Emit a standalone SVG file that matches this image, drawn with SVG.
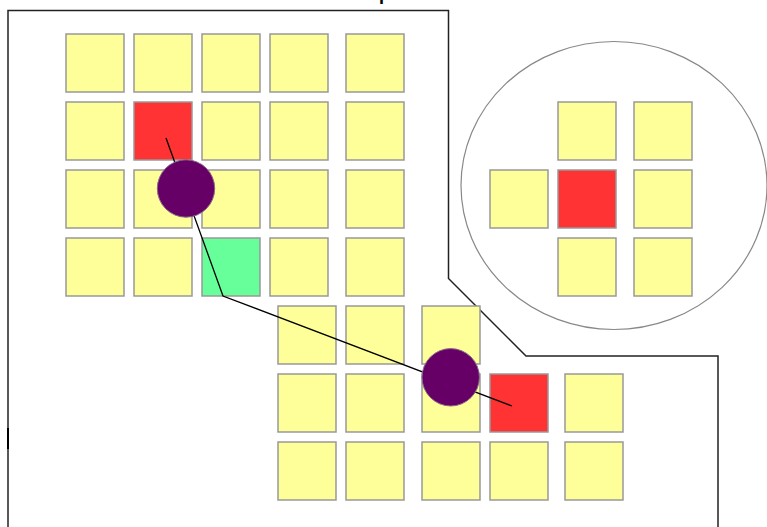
<svg xmlns="http://www.w3.org/2000/svg" width="767" height="527" viewBox="0 0 767 527">
<style>
.sq{fill:#ffff99;stroke:#999999;stroke-width:1.5}
.red{fill:#ff3333}
.green{fill:#66ff99}
.hub{fill:#660066;stroke:#8a6a8a;stroke-width:1}
.outline{fill:none;stroke:#222222;stroke-width:1.5}
.conn{fill:none;stroke:#000000;stroke-width:1.3}
</style>
<rect width="767" height="527" fill="#ffffff"/>
<text x="379" y="0" font-family="Liberation Sans, Arial, sans-serif" font-weight="bold" font-size="18" fill="#000">p</text>
<g id="region">
<path class="outline" d="M8,530 L8,10.5 L448.5,10.5 L448.5,278.5 L526,356 L718,356 L718,530"/>
<line x1="8" y1="428" x2="8" y2="449" stroke="#000" stroke-width="2"/>
</g>
<g id="top-grid">
<rect class="sq" x="66" y="34" width="58" height="58"/>
<rect class="sq" x="134" y="34" width="58" height="58"/>
<rect class="sq" x="202" y="34" width="58" height="58"/>
<rect class="sq" x="270" y="34" width="58" height="58"/>
<rect class="sq" x="346" y="34" width="58" height="58"/>
<rect class="sq" x="66" y="102" width="58" height="58"/>
<rect class="sq red" x="134" y="102" width="58" height="58"/>
<rect class="sq" x="202" y="102" width="58" height="58"/>
<rect class="sq" x="270" y="102" width="58" height="58"/>
<rect class="sq" x="346" y="102" width="58" height="58"/>
<rect class="sq" x="66" y="170" width="58" height="58"/>
<rect class="sq" x="134" y="170" width="58" height="58"/>
<rect class="sq" x="202" y="170" width="58" height="58"/>
<rect class="sq" x="270" y="170" width="58" height="58"/>
<rect class="sq" x="346" y="170" width="58" height="58"/>
<rect class="sq" x="66" y="238" width="58" height="58"/>
<rect class="sq" x="134" y="238" width="58" height="58"/>
<rect class="sq green" x="202" y="238" width="58" height="58"/>
<rect class="sq" x="270" y="238" width="58" height="58"/>
<rect class="sq" x="346" y="238" width="58" height="58"/>
</g>
<g id="bottom-grid">
<rect class="sq" x="278" y="306" width="58" height="58"/>
<rect class="sq" x="346" y="306" width="58" height="58"/>
<rect class="sq" x="422" y="306" width="58" height="58"/>
<rect class="sq" x="278" y="374" width="58" height="58"/>
<rect class="sq" x="346" y="374" width="58" height="58"/>
<rect class="sq" x="422" y="374" width="58" height="58"/>
<rect class="sq red" x="490" y="374" width="58" height="58"/>
<rect class="sq" x="565" y="374" width="58" height="58"/>
<rect class="sq" x="278" y="442" width="58" height="58"/>
<rect class="sq" x="346" y="442" width="58" height="58"/>
<rect class="sq" x="422" y="442" width="58" height="58"/>
<rect class="sq" x="490" y="442" width="58" height="58"/>
<rect class="sq" x="565" y="442" width="58" height="58"/>
</g>
<g id="neighbourhood">
<ellipse cx="614" cy="185.5" rx="153" ry="144" fill="none" stroke="#888888" stroke-width="1.2"/>
<rect class="sq" x="558" y="102" width="58" height="58"/>
<rect class="sq" x="634" y="102" width="58" height="58"/>
<rect class="sq" x="490" y="170" width="58" height="58"/>
<rect class="sq red" x="558" y="170" width="58" height="58"/>
<rect class="sq" x="634" y="170" width="58" height="58"/>
<rect class="sq" x="558" y="238" width="58" height="58"/>
<rect class="sq" x="634" y="238" width="58" height="58"/>
</g>
<g id="connectors">
<polyline class="conn" points="166,138 223,296 512,406"/>
</g>
<g id="hub-1"><circle class="hub" cx="186" cy="188.5" r="28.7"/></g>
<g id="hub-2"><circle class="hub" cx="450.7" cy="377.3" r="28.7"/></g>
</svg>
